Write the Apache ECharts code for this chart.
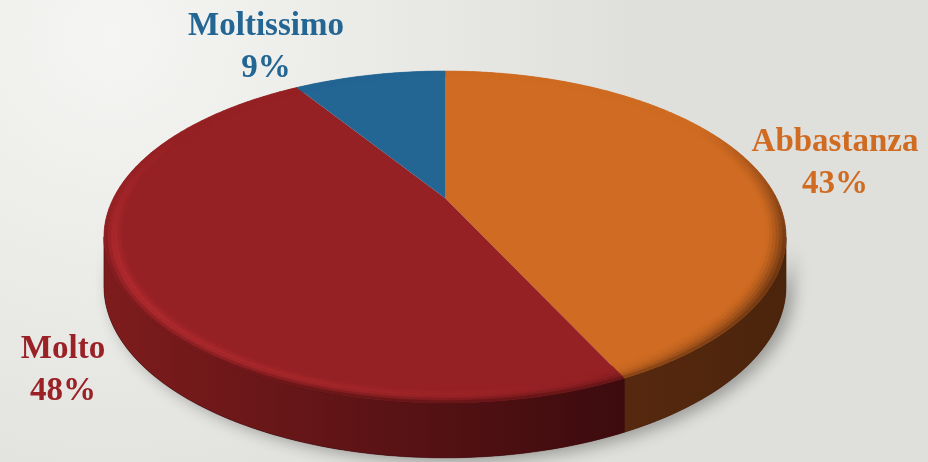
<!DOCTYPE html>
<html>
<head>
<meta charset="utf-8">
<script src="https://cdn.jsdelivr.net/npm/echarts@6/dist/echarts.min.js"></script>
<style>
  html, body { margin: 0; padding: 0; }
  #chart { width: 928px; height: 462px; }
</style>
</head>
<body>
<div id="chart"></div>
<script>
// Survey answers, clockwise from 12 o'clock
const categories = ['Abbastanza', 'Molto', 'Moltissimo'];
const values = [43, 48, 9];

// Palette
const topColors   = ['#cf6b22', '#952124', '#236593'];
const highColors  = ['#e2853f', '#b52c30', '#3c80b3'];
const wallColors  = [['#56290f', '#4b240c'], ['#7e1c1d', '#3c0b0e'], ['#1a4c70', '#123650']];
const labelColors = ['#d06b22', '#9a2227', '#236593'];

// Label placement (centre of the name line) and gap to the percentage line
const labelAnchors = [[835, 142], [63, 349], [266, 26]];
const labelGap = 42;

// Tilted-disc projection
const view = { cx: 445, cy: 198, rx: 331.5, ry: 156.8, persp: 0.235, depth: 48, bevel: 0.055 };
const DEG = Math.PI / 180;
const total = values.reduce((a, b) => a + b, 0);
const starts = [];
values.reduce((acc, v) => { starts.push(acc); return acc + v; }, 0);

// theta measured clockwise from 12 o'clock
function project(theta, r, lowered) {
  const u = r * Math.sin(theta), v = r * Math.cos(theta);
  const s = 1 / (1 + view.persp * v);
  return [view.cx + view.rx * u * s, view.cy - view.ry * v * s + (lowered ? view.depth * Math.sqrt(s) : 0)];
}
function arcPts(a0, a1, r, lowered) {
  const n = Math.max(2, Math.ceil(Math.abs(a1 - a0) / DEG));
  const pts = [];
  for (let k = 0; k <= n; k++) pts.push(project(a0 + (a1 - a0) * k / n, r, lowered));
  return pts;
}
function rgb(h) {
  return [parseInt(h.slice(1, 3), 16), parseInt(h.slice(3, 5), 16), parseInt(h.slice(5, 7), 16)];
}
function mix(c1, c2, t) {
  t = Math.max(0, Math.min(1, t));
  return c1.map((c, k) => c + (c2[k] - c) * t);
}
function css(c) { return 'rgb(' + c.map(x => Math.round(x)).join(',') + ')'; }

const wallStart = Math.acos(-view.persp);
const wallEnd = 2 * Math.PI - wallStart;
const lightDir = 250 * DEG;

function renderItem(params, api) {
  const i = params.dataIndex;
  const val = api.value(0);
  const a0 = starts[i] / total * 2 * Math.PI;
  const a1 = a0 + val / total * 2 * Math.PI;
  const children = [];

  // one silhouette of the whole front wall carries the drop shadow
  if (i === 0) {
    const pts = arcPts(wallStart, wallEnd, 1, false).concat(arcPts(wallEnd, wallStart, 1, true));
    children.push({
      type: 'polygon', z2: 0, silent: true,
      shape: { points: pts },
      style: { fill: '#4a1a10', shadowBlur: 16, shadowColor: 'rgba(0,0,0,0.32)', shadowOffsetX: 7, shadowOffsetY: 4 }
    });
  }

  // outer wall (front part only)
  const w0 = Math.max(a0, wallStart), w1 = Math.min(a1, wallEnd);
  if (w1 > w0) {
    const pts = arcPts(w0, w1, 1, false).concat(arcPts(w1, w0, 1, true));
    const xs = pts.map(p => p[0]);
    const xMin = Math.min.apply(null, xs), xMax = Math.max.apply(null, xs);
    children.push({
      type: 'polygon', z2: 1, silent: true,
      shape: { points: pts },
      style: {
        fill: new echarts.graphic.LinearGradient(xMin, 0, xMax, 0, [
          { offset: 0, color: wallColors[i][0] },
          { offset: 1, color: wallColors[i][1] }
        ], true),
        stroke: wallColors[i][1], lineWidth: 0.5
      }
    });
  }

  // top face
  children.push({
    type: 'polygon', z2: 5,
    shape: { points: [[view.cx, view.cy]].concat(arcPts(a0, a1, 1, false)) },
    style: { fill: topColors[i] }
  });

  // rounded rim: thin strips shaded by direction of light
  const top = rgb(topColors[i]), hi = rgb(highColors[i]), dark = rgb(wallColors[i][1]);
  const strips = 6;
  const segN = Math.max(1, Math.ceil((a1 - a0) / (2 * DEG)));
  for (let s = 0; s < strips; s++) {
    const r0 = 1 - view.bevel + view.bevel * s / strips;
    const r1 = 1 - view.bevel + view.bevel * (s + 1) / strips;
    const t = (s + 0.5) / strips;
    for (let j = 0; j < segN; j++) {
      const b0 = a0 + (a1 - a0) * j / segN, b1 = a0 + (a1 - a0) * (j + 1) / segN;
      const mid = (b0 + b1) / 2;
      const v = Math.cos(mid);
      const front = Math.max(0, Math.min(1, 0.5 - v));
      const L = Math.cos(mid - lightDir);
      let c = top;
      const bump = Math.exp(-Math.pow((t - 0.5) / 0.28, 2));
      c = mix(c, hi, Math.max(0, L) * front * bump * 0.9);
      c = mix(c, dark, Math.max(0, -L) * front * Math.pow(t, 1.3) * 1.1);
      c = mix(c, dark, Math.max(0, -v) * Math.pow(t, 4) * 0.7);
      const col = css(c);
      const pts = arcPts(b0, b1, r0, false).concat(arcPts(b1, b0, r1, false));
      children.push({
        type: 'polygon', z2: 6, silent: true,
        shape: { points: pts },
        style: { fill: col, stroke: col, lineWidth: 0.6 }
      });
    }
  }

  // labels
  const pct = Math.round(val / total * 100) + '%';
  const font = 'bold 33px "Liberation Serif", "Times New Roman", serif';
  const [lx, ly] = labelAnchors[i];
  children.push({
    type: 'text', z2: 20, x: lx, y: ly,
    style: { text: categories[i], fill: labelColors[i], font: font, align: 'center', verticalAlign: 'middle' }
  });
  children.push({
    type: 'text', z2: 20, x: lx, y: ly + labelGap,
    style: { text: pct, fill: labelColors[i], font: font, align: 'center', verticalAlign: 'middle' }
  });

  return { type: 'group', children: children };
}

const chart = echarts.init(document.getElementById('chart'));
chart.setOption({
  animation: false,
  backgroundColor: new echarts.graphic.RadialGradient(0.12, 0.08, 1.15, [
    { offset: 0, color: '#f5f5f3' },
    { offset: 1, color: '#dfdfdb' }
  ]),
  series: [{
    type: 'custom',
    coordinateSystem: 'none',
    data: values.map((v, i) => ({ name: categories[i], value: [v] })),
    renderItem: renderItem
  }]
});
</script>
</body>
</html>
